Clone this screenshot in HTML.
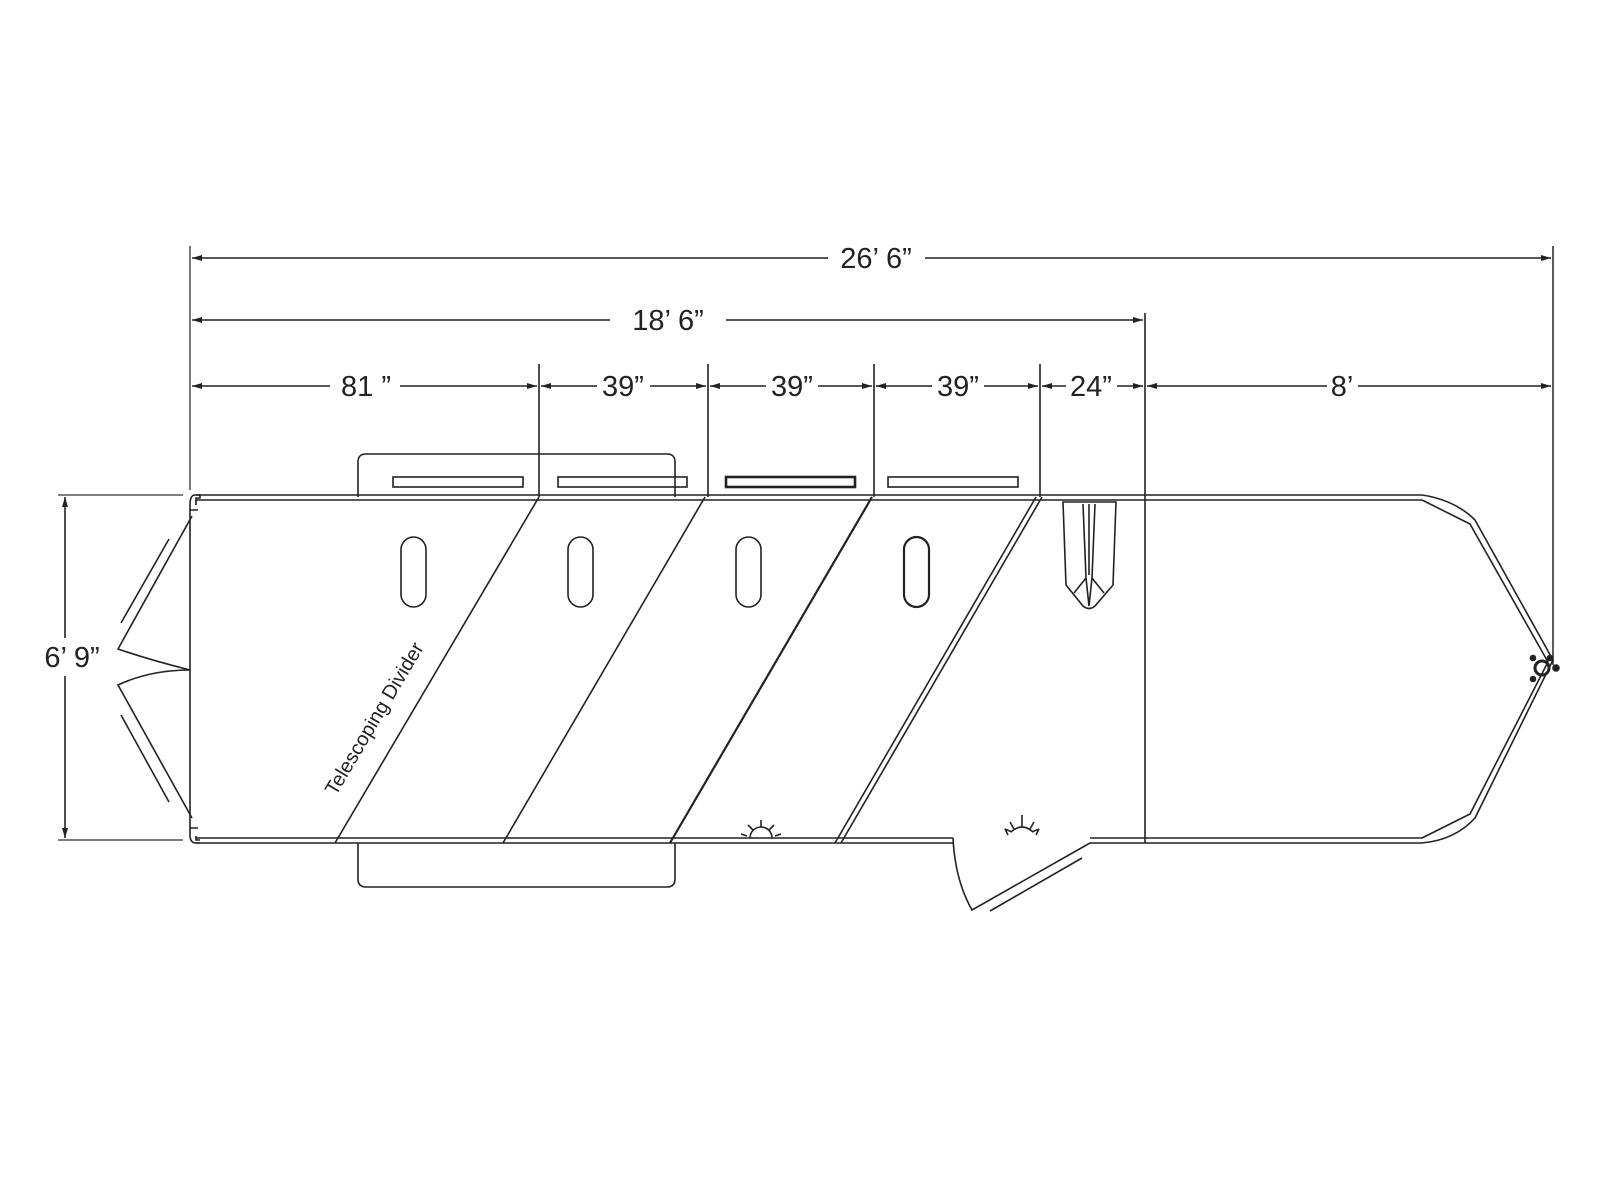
<!DOCTYPE html>
<html><head><meta charset="utf-8"><style>
html,body{margin:0;padding:0;background:#fff;width:1600px;height:1200px;overflow:hidden}
svg{display:block}
.d{font-family:"Liberation Sans Narrow","Liberation Sans",sans-serif;font-size:29px;fill:#222}
</style></head><body>
<svg width="1600" height="1200" viewBox="0 0 1600 1200" xmlns="http://www.w3.org/2000/svg">
<defs>
<marker id="a" markerWidth="10" markerHeight="6" refX="10" refY="3" orient="auto-start-reverse" markerUnits="userSpaceOnUse"><path d="M0,0 L10,3 L0,6 z" fill="#222"/></marker>
</defs>
<g stroke="#222" stroke-width="1.6" fill="none">
<!-- extension lines -->
<line x1="190" y1="246" x2="190" y2="490" stroke="#555"/>
<line x1="1553" y1="246" x2="1553" y2="665" stroke="#333"/>
<line x1="1145" y1="313" x2="1145" y2="497"/>
<line x1="539" y1="364" x2="539" y2="497"/>
<line x1="708" y1="364" x2="708" y2="497"/>
<line x1="874" y1="364" x2="874" y2="497"/>
<line x1="1040" y1="364" x2="1040" y2="497"/>
<!-- dim lines -->
<line x1="192" y1="258" x2="828" y2="258" marker-start="url(#a)"/>
<line x1="925" y1="258" x2="1551" y2="258" marker-end="url(#a)"/>
<line x1="192" y1="320" x2="610" y2="320" marker-start="url(#a)"/>
<line x1="726" y1="320" x2="1143" y2="320" marker-end="url(#a)"/>
<line x1="192" y1="386" x2="330" y2="386" marker-start="url(#a)"/>
<line x1="400" y1="386" x2="537" y2="386" marker-end="url(#a)"/>
<line x1="541" y1="386" x2="597" y2="386" marker-start="url(#a)"/>
<line x1="650" y1="386" x2="706" y2="386" marker-end="url(#a)"/>
<line x1="710" y1="386" x2="766" y2="386" marker-start="url(#a)"/>
<line x1="818" y1="386" x2="872" y2="386" marker-end="url(#a)"/>
<line x1="876" y1="386" x2="932" y2="386" marker-start="url(#a)"/>
<line x1="984" y1="386" x2="1038" y2="386" marker-end="url(#a)"/>
<line x1="1042" y1="386" x2="1066" y2="386" marker-start="url(#a)"/>
<line x1="1117" y1="386" x2="1143" y2="386" marker-end="url(#a)"/>
<line x1="1147" y1="386" x2="1327" y2="386" marker-start="url(#a)"/>
<line x1="1358" y1="386" x2="1551" y2="386" marker-end="url(#a)"/>
<!-- 6'9 -->
<line x1="58" y1="495" x2="183" y2="495" stroke="#555"/>
<line x1="58" y1="840" x2="183" y2="840" stroke="#555"/>
<line x1="65" y1="497" x2="65" y2="638" marker-start="url(#a)"/>
<line x1="65" y1="676" x2="65" y2="838" marker-end="url(#a)"/>
<!-- top/bottom boxes -->
<path d="M358,497 V462 Q358,454 366,454 H667 Q675,454 675,462 V497"/>
<path d="M358,843 V879 Q358,887 366,887 H667 Q675,887 675,879 V843"/>
<rect x="393" y="477" width="130" height="10"/>
<rect x="558" y="477" width="129" height="10"/>
<rect x="726" y="477" width="129" height="10" stroke-width="2.6"/>
<rect x="888" y="477" width="130" height="10"/>
<!-- trailer body -->
<path d="M196,495 H1422" stroke-width="1.4"/>
<path d="M196,500 H1422" stroke-width="1.4"/>
<path d="M196,838 H953 M1090,838 H1422" stroke-width="1.4"/>
<path d="M196,843 H953 M1090,843 H1422" stroke-width="1.4"/>
<line x1="190" y1="510" x2="190" y2="828"/>
<path d="M195,495 Q190,495 190,505 V510 H198 M195,495 H200 V498 H196 V505"/>
<path d="M190,828 V835 Q190,843 196,843 H200 M190,828 H198 M196,836 V840 H200"/>
<!-- front -->
<path d="M1422,495 Q1455,500 1475,520 L1553,660 L1475,818 Q1455,840 1422,843"/>
<path d="M1422,500 L1470,524 L1548,662 L1470,814 L1422,838"/>
<circle cx="1542" cy="668" r="7" stroke-width="3"/>
<circle cx="1533" cy="658" r="2.5" fill="#222"/><circle cx="1533" cy="679" r="2.5" fill="#222"/><circle cx="1556" cy="668" r="3" fill="#222"/><circle cx="1550" cy="658" r="2.5" fill="#222"/>
<!-- front partition -->
<line x1="1145" y1="497" x2="1145" y2="843"/>
<!-- dividers -->
<line x1="539" y1="497" x2="335" y2="843"/>
<line x1="705" y1="497" x2="503" y2="843"/>
<line x1="872" y1="497" x2="670" y2="843" stroke-width="2.2"/>
<line x1="1036" y1="497" x2="835" y2="843"/>
<line x1="1042" y1="497" x2="841" y2="843"/>
<!-- ovals -->
<rect x="401" y="537" width="25" height="70" rx="12.5"/>
<rect x="568" y="537" width="25" height="70" rx="12.5"/>
<rect x="736" y="537" width="25" height="70" rx="12.5"/>
<rect x="904" y="537" width="25" height="70" rx="12.5" stroke-width="2.2"/>
<!-- tack/saddle -->
<path d="M1063,502 L1066,585 L1083,606 Q1089,611 1095,606 L1113,585 L1116,502 Z"/>
<path d="M1083,504 L1086,578 L1074,593 M1095,504 L1092,578 L1104,593 M1086,578 L1089,606 L1092,578 M1089,504 V575"/>
<!-- side door -->
<path d="M953,838 Q955,880 972,910 L1090,843"/>
<line x1="990" y1="911" x2="1082" y2="858"/>
<!-- rear doors -->
<path d="M192,516 L118,649 Q150,660 190,670 Q150,670 118,685 L192,818"/>
<line x1="121" y1="623" x2="169" y2="539"/>
<line x1="121" y1="715" x2="169" y2="802"/>
<!-- lights -->
<path d="M750,838 A11,11 0 0 1 772,838 M761,827 V820 M753,830 L748,825 M769,830 L774,825 M747,836 L741,834 M775,836 L781,834"/>
<path d="M1011,832 Q1022,822 1033,832 M1022,827 V815 M1014,829 L1010,822 M1030,829 L1034,822 M1012,832 L1005,829 M1032,832 L1039,829 M1005,829 L1008,835 M1039,829 L1036,835"/>
</g>
<g class="d" text-anchor="middle">
<text x="876" y="268">26’ 6”</text>
<text x="668" y="330">18’ 6”</text>
<text x="366" y="396">81 ”</text>
<text x="623" y="396">39”</text>
<text x="792" y="396">39”</text>
<text x="958" y="396">39”</text>
<text x="1091" y="396">24”</text>
<text x="1342" y="396">8’</text>
<text x="72" y="667">6’ 9”</text>
</g>
<text class="d" style="font-size:20px" x="0" y="0" text-anchor="middle" transform="translate(380,722) rotate(-59.3)">Telescoping Divider</text>
</svg>
</body></html>
